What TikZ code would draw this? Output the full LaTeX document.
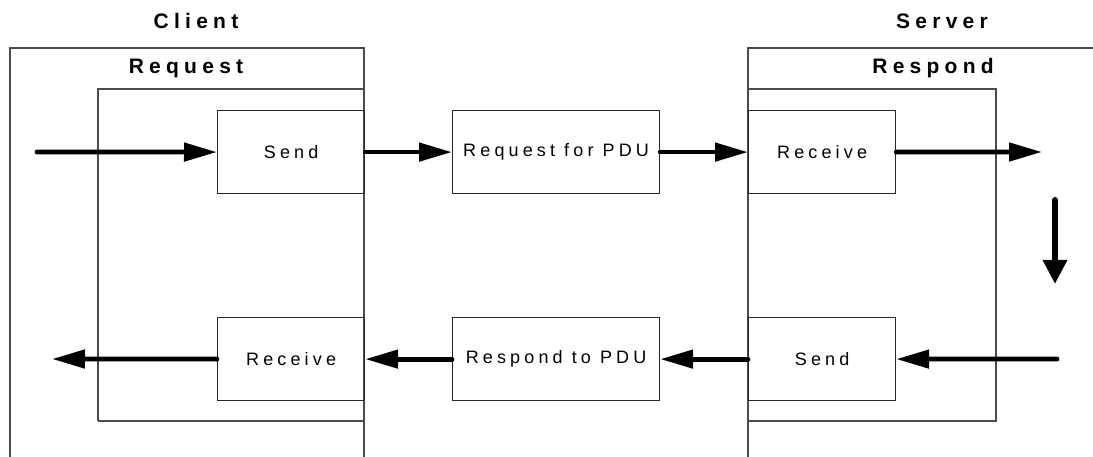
\documentclass[tikz,border=0pt]{standalone}
\usepackage{fontspec}
\setmainfont{Liberation Sans}
\newfontfamily\boxfont[LetterSpace=23]{Liberation Sans}
\newfontfamily\headfont[LetterSpace=25]{Liberation Sans}
\usetikzlibrary{arrows.meta, positioning}
\tikzset{
    frame/.style={draw=black!70, line width=1.2pt},
    stage/.style={draw=black!85, line width=1.2pt, rectangle, anchor=north west, minimum width=147pt, minimum height=83pt, inner sep=0pt, font=\boxfont\fontsize{18}{20}\selectfont},
    pdu/.style={stage, minimum width=207pt},
    heading/.style={font=\headfont\bfseries\fontsize{21}{23}\selectfont},
    flow/.style={-{Triangle[length=33pt, width=18pt]}, line width=4.8pt, line cap=round},
    turn/.style={-{Triangle[length=24pt, width=23pt]}, line width=6pt, line cap=round}
}

\begin{document}
\begin{tikzpicture}[x=1pt, y=-1pt]
    \useasboundingbox (0,0) rectangle (1093,457);
    \clip (0,0) rectangle (1093,457);

    % ============================================================
    % Frames: client side and server side
    % ============================================================
    \draw[frame] (10,480) -- (10,48) -- (364,48) -- (364,480);
    \draw[frame] (98,421) -- (98,89) -- (364,89);
    \draw[frame] (364,421) -- (98,421);

    \draw[frame] (748,480) -- (748,48) -- (1120,48);
    \draw[frame] (748,89) -- (996,89) -- (996,421) -- (748,421);

    \node[heading] (client) at (196,21) {Client};
    \node[heading] (request) at (186,68) {Request};
    \node[heading] (server) at (942,21) {Server};
    \node[heading] (respond) at (933,68) {Respond};

    % ============================================================
    % Boxes
    % ============================================================
    \node[stage] (c_send) at (217,110) {Send};
    \node[stage] (c_recv) at (217,317) {Receive};

    \node[pdu] (req_pdu) at (452,110) {Request for PDU};
    \node[pdu] (resp_pdu) at (452,317) {Respond to PDU};

    \node[stage] (s_recv) at (748,110) {Receive};
    \node[stage] (s_send) at (748,317) {Send};

    % free ends of the connectors
    \coordinate (in_top) at (37,152);
    \coordinate (out_top) at (1042,152);
    \coordinate (in_bot) at (1057,359);
    \coordinate (out_bot) at (52,359);
    \coordinate (turn_a) at (1055,200);
    \coordinate (turn_b) at (1055,284);

    % ============================================================
    % Connections
    % ============================================================
    \draw[flow] (in_top) -- (c_send.west);
    \draw[flow] (c_send.east) -- (req_pdu.west);
    \draw[flow] (req_pdu.east) -- (s_recv.west);
    \draw[flow] (s_recv.east) -- (out_top);

    \draw[turn] (turn_a) -- (turn_b);

    \draw[flow] (in_bot) -- (s_send.east);
    \draw[flow] (s_send.west) -- (resp_pdu.east);
    \draw[flow] (resp_pdu.west) -- (c_recv.east);
    \draw[flow] (c_recv.west) -- (out_bot);

\end{tikzpicture}
\end{document}
